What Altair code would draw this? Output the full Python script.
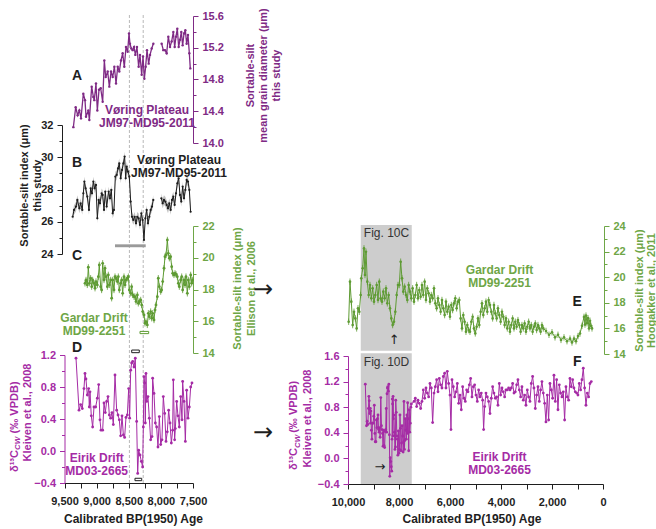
import altair as alt
import pandas as pd

W, H = 656, 529
FONT = "Liberation Sans"
PURPLE = "#7f2a85"
INK = "#1e1e1e"
BAND = "#b4b4b4"
GREEN = "#5e9b33"
GREEN_TXT = "#6ea646"
MAGENTA = "#a52ba5"
SHADE = "#cdcdcd"
DASH = "#b8b8b8"

# ---------------- data ----------------
# A: Vøring Plateau JM97-MD95-2011, mean sortable-silt grain diameter (µm); gap near 8,050 BP
a_age_1 = [9362, 9326, 9295, 9269, 9243, 9207, 9181, 9165, 9129, 9113,
           9077, 9051, 9036, 9010, 8989, 8963, 8937, 8906, 8880, 8859,
           8828, 8802, 8776, 8750, 8724, 8698, 8672, 8647, 8621, 8595,
           8569, 8543, 8517, 8496, 8481, 8460, 8439, 8418, 8397, 8372,
           8346, 8325, 8299, 8278, 8257, 8237, 8216, 8190, 8169, 8143, 8117]
a_val_1 = [14.20, 14.45, 14.35, 14.41, 14.31, 14.62, 14.54, 14.33, 14.41, 14.29,
           14.71, 14.58, 14.54, 14.75, 14.41, 14.67, 14.69, 14.52, 15.04, 14.83,
           14.90, 14.71, 14.90, 14.83, 14.96, 14.75, 14.96, 14.90, 15.04, 15.13,
           14.96, 15.21, 15.15, 15.38, 15.25, 15.19, 15.17, 15.21, 15.11, 15.21,
           14.96, 15.11, 14.86, 15.09, 14.81, 14.96, 15.17, 15.00, 15.11, 15.19, 15.25]
a_age_2 = [7988, 7962, 7936, 7910, 7884, 7858, 7832, 7806, 7785, 7765,
           7744, 7723, 7702, 7682, 7661, 7640, 7619, 7599, 7578, 7557, 7542]
a_val_2 = [15.25, 15.17, 15.17, 15.13, 15.34, 15.21, 15.28, 15.40, 15.21, 15.34,
           15.44, 15.21, 15.30, 15.40, 15.23, 15.38, 15.42, 15.25, 15.36, 15.13, 14.94]

# B: Vøring Plateau JM97-MD95-2011, sortable-silt index (µm)
b_age_1 = [9373, 9352, 9321, 9300, 9269, 9249, 9223, 9207, 9191, 9171,
           9145, 9119, 9093, 9072, 9051, 9031, 9010, 8989, 8968, 8948,
           8922, 8906, 8885, 8865, 8844, 8813, 8792, 8771, 8751, 8730,
           8709, 8688, 8667, 8647, 8626, 8605, 8584, 8564, 8548, 8533,
           8512, 8491, 8470, 8450, 8429, 8408, 8387, 8367, 8346, 8325,
           8304, 8284, 8263, 8242, 8221, 8201, 8180, 8159, 8138, 8118]
b_val_1 = [26.31, 26.73, 26.94, 27.35, 26.83, 27.14, 26.73, 27.76, 28.49, 28.07,
           27.56, 26.73, 28.07, 27.76, 28.49, 28.07, 28.28, 26.21, 27.35, 27.14,
           27.76, 27.66, 26.73, 27.87, 26.94, 27.87, 27.45, 27.97, 26.52, 26.73,
           28.80, 28.90, 29.31, 29.62, 28.69, 29.21, 29.62, 30.04, 28.69, 29.42,
           29.11, 28.80, 27.25, 26.31, 26.11, 26.31, 25.90, 26.31, 26.21, 25.80,
           26.52, 26.11, 24.87, 26.21, 26.73, 25.90, 26.31, 26.73, 26.94, 27.35]
b_age_2 = [7993, 7972, 7952, 7931, 7910, 7889, 7869, 7848, 7827, 7806,
           7786, 7765, 7744, 7723, 7703, 7682, 7661, 7640, 7619, 7599,
           7578, 7557, 7537]
b_val_2 = [27.45, 27.14, 27.35, 27.25, 27.04, 26.83, 27.14, 26.73, 27.35, 27.56,
           27.04, 27.76, 28.38, 28.69, 27.66, 27.25, 28.18, 27.45, 27.97, 28.59,
           28.49, 27.97, 26.62]
B_ERR = 0.3

# C: Gardar Drift MD99-2251, sortable-silt index (µm), Ellison et al., 2006
c_age = [9181, 9165, 9145, 9129, 9113, 9093, 9077, 9062, 9041, 9025,
         9010, 8989, 8973, 8958, 8937, 8922, 8906, 8885, 8870, 8854,
         8833, 8818, 8802, 8781, 8766, 8750, 8730, 8714, 8698, 8678,
         8662, 8647, 8626, 8610, 8595, 8574, 8558, 8543, 8522, 8506,
         8491, 8470, 8455, 8439, 8418, 8403, 8387, 8366, 8351, 8335,
         8314, 8299, 8283, 8263, 8247, 8232, 8211, 8195, 8180, 8159,
         8143, 8128, 8107, 8091, 8076, 8055, 8040, 8024, 8003, 7988,
         7972, 7951, 7936, 7920, 7899, 7884, 7868, 7848, 7832, 7817,
         7796, 7780, 7765, 7744, 7728, 7713, 7692, 7676, 7661, 7640,
         7624, 7609, 7588, 7573, 7557, 7536, 7521, 7505]
c_val = [18.39, 18.60, 18.29, 19.40, 18.39, 18.71, 18.18, 18.60, 18.39, 18.08,
         18.50, 18.29, 18.81, 19.55, 18.18, 17.97, 19.65, 18.60, 19.34, 18.81,
         18.18, 18.92, 18.29, 18.60, 17.45, 18.60, 17.97, 18.81, 18.71, 18.50,
         18.81, 17.97, 18.39, 18.60, 17.76, 18.81, 18.29, 18.60, 18.71, 18.81,
         17.97, 17.76, 18.18, 17.66, 17.55, 17.55, 17.24, 17.66, 17.13, 17.24,
         17.34, 17.03, 16.61, 16.40, 15.87, 15.98, 15.77, 16.50, 16.29, 16.61,
         16.19, 16.50, 16.08, 16.71, 17.03, 17.55, 18.71, 18.18, 17.87, 17.97,
         18.50, 19.34, 20.07, 20.18, 21.12, 20.28, 19.97, 20.07, 19.44, 19.02,
         18.92, 19.02, 18.96, 18.81, 18.39, 18.18, 18.60, 18.81, 17.97, 18.60,
         18.29, 18.81, 17.76, 18.60, 18.18, 18.92, 18.39, 18.60]
C_ERR = 0.2

# D / F: Eirik Drift MD03-2665, benthic d13C (permil VPDB), Kleiven et al., 2008
d_age = [9321, 9274, 9249, 9223, 9197, 9181, 9166, 9145, 9124, 9114,
         9103, 9083, 9062, 9041, 9015, 8989, 8968, 8948, 8932, 8906,
         8885, 8865, 8844, 8823, 8802, 8782, 8761, 8740, 8714, 8688,
         8667, 8647, 8626, 8605, 8584, 8564, 8543, 8522, 8501, 8486,
         8470, 8455, 8439, 8418, 8398, 8377, 8361, 8346, 8325, 8304,
         8284, 8273, 8263, 8252, 8242, 8232, 8221, 8201, 8180, 8159,
         8138, 8128, 8107, 8086, 8066, 8045, 8024, 8003, 7983, 7962,
         7941, 7920, 7900, 7879, 7858, 7837, 7817, 7806, 7786, 7775,
         7754, 7734, 7713, 7692, 7671, 7661, 7640, 7619, 7599, 7578,
         7557, 7536, 7516]
d_val = [1.16, 0.51, 0.58, 0.53, 0.78, 0.97, 0.90, 0.70, 0.78, 0.55,
         0.74, 0.44, 0.30, 0.55, 0.55, 0.66, 0.83, 0.39, 0.26, 0.26,
         0.60, 0.48, 0.62, 0.68, 0.45, 0.41, 0.48, 0.33, 0.95, 0.51,
         0.45, 0.39, 0.19, 0.44, 0.20, 0.17, 0.42, 0.45, 0.78, 0.41,
         1.01, 1.10, 1.12, 1.05, 1.16, 0.37, -0.28, 0.01, -0.05, -0.13,
         -0.20, 0.30, 0.93, 0.85, 0.35, 0.97, 0.62, 0.68, 0.41, 0.14,
         0.18, 0.91, 0.72, 0.35, 0.30, 0.05, 0.43, 0.08, 0.14, 0.68,
         0.47, 0.12, 0.24, 0.51, 0.35, 0.10, 0.26, 0.89, 0.14, 0.28,
         0.62, 0.44, 0.30, 0.68, 0.39, 0.87, 0.62, 0.12, 0.76, 0.41,
         0.55, 0.80, 0.85]
f_age_late = [7412, 7360, 7308, 7256, 7203, 7151, 7099, 7047, 6994, 6942,
              6890, 6837, 6785, 6733, 6681, 6628, 6576, 6524, 6471, 6419,
              6367, 6315, 6262, 6210, 6158, 6106, 6053, 6001, 5962, 5922,
              5870, 5818, 5766, 5713, 5661, 5609, 5557, 5504, 5452, 5400,
              5347, 5295, 5243, 5191, 5138, 5086, 5034, 4981, 4929, 4877,
              4825, 4773, 4720, 4681, 4641, 4589, 4537, 4485, 4432, 4380,
              4328, 4276, 4223, 4171, 4119, 4066, 4014, 3962, 3910, 3857,
              3805, 3753, 3701, 3648, 3596, 3544, 3491, 3439, 3387, 3335,
              3282, 3230, 3178, 3126, 3073, 3021, 2969, 2916, 2864, 2812,
              2760, 2707, 2655, 2603, 2550, 2498, 2446, 2394, 2341, 2289,
              2237, 2184, 2132, 2080, 2028, 1975, 1923, 1871, 1819, 1766,
              1714, 1662, 1609, 1557, 1505, 1453, 1400, 1348, 1296, 1243,
              1191, 1139, 1087, 1034, 982, 930, 878, 825, 773, 721,
              668, 616, 564, 512, 459]
f_val_late = [0.89, 0.94, 0.81, 0.91, 0.86, 0.78, 0.89, 1.07, 0.94, 1.10,
              1.02, 0.96, 1.17, 1.10, 0.56, 1.02, 1.12, 1.23, 1.04, 1.25,
              1.15, 1.10, 1.28, 1.33, 1.10, 1.36, 1.17, 0.99, 0.45, 1.23,
              1.12, 0.96, 1.04, 1.17, 0.86, 0.99, 0.76, 1.12, 0.94, 0.89,
              1.07, 1.04, 1.15, 1.25, 0.96, 1.12, 1.15, 0.99, 0.89, 1.07,
              0.96, 1.02, 0.91, 0.45, 0.81, 1.02, 0.96, 0.89, 0.70, 0.94,
              1.12, 1.02, 0.94, 0.96, 0.83, 1.17, 0.99, 1.10, 1.04, 0.96,
              1.07, 1.07, 1.10, 1.07, 1.10, 1.17, 1.02, 1.04, 1.15, 1.23,
              1.07, 0.96, 1.12, 0.91, 0.99, 0.83, 1.07, 0.96, 0.89, 1.17,
              1.28, 1.10, 0.78, 0.99, 1.12, 0.89, 1.07, 1.20, 1.02, 0.86,
              0.57, 0.99, 0.60, 1.17, 1.07, 0.94, 1.30, 0.89, 1.23, 0.76,
              1.15, 1.02, 0.96, 1.04, 0.60, 1.12, 0.96, 0.91, 1.25, 1.12,
              1.23, 1.10, 1.04, 1.02, 0.99, 1.17, 1.07, 1.23, 1.41, 1.10,
              0.83, 1.02, 0.96, 1.17, 1.20]

# E: Gardar Drift MD99-2251, sortable-silt index (µm), Hoogakker et al., 2011
e_age = [9974, 9922, 9870, 9817, 9765, 9713, 9661, 9608, 9556, 9504,
         9478, 9425, 9373, 9334, 9295, 9242, 9190, 9138, 9085, 9033,
         8981, 8929, 8876, 8824, 8772, 8720, 8667, 8615, 8563, 8510,
         8458, 8406, 8354, 8301, 8249, 8197, 8145, 8092, 8040, 7988,
         7935, 7883, 7831, 7779, 7726, 7674, 7622, 7570, 7517, 7465,
         7412, 7360, 7308, 7256, 7203, 7151, 7099, 7047, 6994, 6942,
         6890, 6837, 6785, 6733, 6681, 6628, 6576, 6524, 6471, 6419,
         6367, 6315, 6262, 6210, 6158, 6106, 6053, 6001, 5949, 5897,
         5844, 5792, 5740, 5687, 5635, 5583, 5530, 5478, 5426, 5374,
         5321, 5269, 5217, 5164, 5112, 5060, 5008, 4955, 4903, 4851,
         4798, 4746, 4694, 4641, 4589, 4537, 4485, 4432, 4380, 4328,
         4276, 4223, 4171, 4119, 4066, 4014, 3962, 3910, 3857, 3805,
         3753, 3701, 3648, 3596, 3544, 3491, 3439, 3387, 3335, 3282,
         3230, 3178, 3126, 3073, 3021, 2969, 2916, 2864, 2812, 2760,
         2707, 2655, 2603, 2550, 2498, 2446, 2394, 2341, 2235, 2118,
         2000, 1882, 1765, 1647, 1529, 1412, 1294, 1216, 1137, 1059,
         980, 902, 824, 745, 706, 667, 627, 588, 549, 510,
         471, 431]
e_val = [16.52, 19.65, 18.09, 16.26, 17.30, 16.78, 16.00, 17.57, 17.30, 18.61,
         19.91, 20.69, 22.25, 20.17, 21.99, 19.65, 18.61, 19.39, 18.35, 19.13,
         18.09, 18.61, 19.39, 18.22, 19.65, 18.35, 18.09, 18.87, 18.35, 19.13,
         17.96, 18.61, 17.57, 16.78, 16.26, 16.52, 17.30, 18.61, 19.39, 19.39,
         21.21, 19.91, 18.87, 19.26, 18.61, 18.22, 19.39, 18.87, 18.35, 19.13,
         18.09, 18.61, 19.39, 18.35, 19.00, 18.48, 19.39, 18.61, 19.65, 18.22,
         19.13, 18.74, 18.09, 18.61, 18.35, 19.13, 17.96, 17.57, 18.35, 17.83,
         17.30, 18.22, 17.57, 17.04, 18.09, 17.30, 17.70, 16.91, 17.83, 17.43,
         17.96, 18.35, 17.57, 18.09, 18.22, 16.78, 16.00, 17.04, 16.52, 15.74,
         16.26, 15.87, 15.74, 16.52, 16.91, 16.00, 15.61, 16.13, 16.78, 16.26,
         17.30, 17.96, 17.04, 17.57, 18.09, 17.30, 18.22, 17.83, 17.30, 16.78,
         17.83, 17.17, 16.78, 17.57, 17.04, 16.52, 17.30, 16.91, 16.26, 16.78,
         16.00, 16.52, 15.74, 16.26, 16.78, 16.00, 16.52, 16.13, 16.65, 16.26,
         15.74, 16.26, 16.00, 16.39, 15.74, 16.13, 16.52, 16.00, 16.26, 15.74,
         16.13, 16.39, 15.87, 16.26, 16.00, 15.74, 16.26, 16.00, 15.8, 15.5,
         15.7, 15.3, 15.5, 15.1, 15.3, 15.0, 15.2, 14.9, 15.2, 15.0,
         15.4, 15.6, 16.2, 16.9, 16.3, 17.0, 16.4, 16.8, 16.0, 16.6,
         16.2, 16.0]
E_ERR = 0.25

# 8.2 ka event guides and the window enlarged on the left
event_ages = [8490, 8275]
window_old, window_young = 9500, 7500

# ---------------- scales ----------------
X_LEFT = alt.Scale(domain=[9500, 7500], range=[64.5, 193], nice=False, zero=False)
X_RIGHT = alt.Scale(domain=[10000, 0], range=[348, 603], nice=False, zero=False)
Y_A = alt.Scale(domain=[14.0, 15.6], range=[143, 16], nice=False, zero=False)
Y_B = alt.Scale(domain=[24, 32], range=[254, 125], nice=False, zero=False)
Y_C = alt.Scale(domain=[14, 22], range=[353, 226], nice=False, zero=False)
Y_D = alt.Scale(domain=[-0.4, 1.2], range=[483, 355], nice=False, zero=False)
Y_E = alt.Scale(domain=[14, 24], range=[354, 226], nice=False, zero=False)
Y_F = alt.Scale(domain=[-0.4, 1.6], range=[484, 356], nice=False, zero=False)


def side_offset(side, at):
    return -at if side == "left" else at - W


def yaxis(side, at, values, fmt, color, title=None, tx=0.0, ty=0.0, lh=13, tcolor=None):
    props = dict(orient=side, offset=side_offset(side, at), values=values,
                 labelExpr=f"format(datum.value, '{fmt}')",
                 grid=False, domainColor=color, tickColor=color, labelColor=color,
                 tickSize=5, labelPadding=4, labelFont=FONT, labelFontSize=11,
                 labelFontWeight="bold", labelOverlap=False)
    if title is None:
        props["title"] = None
    else:
        props.update(title=title, titleX=tx, titleY=ty, titleAngle=270,
                     titleAlign="center", titleBaseline="middle",
                     titleColor=tcolor or color, titleFont=FONT, titleFontSize=11,
                     titleFontWeight="bold", titleLineHeight=lh)
    return alt.Axis(**props)


def minor(side, at, values, color):
    return alt.Axis(orient=side, offset=side_offset(side, at), values=values,
                    labels=False, domain=False, grid=False, tickSize=3,
                    tickColor=color, title=None)


def xaxis(at_y, values, every, tx, ty):
    return alt.Axis(orient="bottom", offset=at_y - H, values=values,
                    labelExpr=f"datum.value % {every} === 0 ? format(datum.value, ',') : ''",
                    grid=False, tickSize=5, labelPadding=7, labelFlush=False,
                    labelOverlap=False, domainColor=INK, tickColor=INK,
                    labelColor=INK, labelFont=FONT, labelFontSize=11,
                    labelFontWeight="bold", title="Calibrated BP(1950) Age",
                    titleX=tx, titleY=ty, titleBaseline="middle", titleAlign="center",
                    titleFont=FONT, titleFontSize=12, titleFontWeight="bold",
                    titleColor=INK)


def series(ages, vals, seg=0):
    return pd.DataFrame({"age": ages, "v": vals, "seg": [seg] * len(ages)})


def xy(xs, ys, xaxis_=None, yaxis_=None):
    return dict(x=alt.X("age:Q", scale=xs, axis=xaxis_),
                y=alt.Y("v:Q", scale=ys, axis=yaxis_))


def note(xs, ys, ages, vals, texts, **mark):
    df = pd.DataFrame({"age": ages, "v": vals, "t": texts})
    return alt.Chart(df).mark_text(**mark).encode(**xy(xs, ys), text="t:N")


def box(xs, ys, a0, a1, v0, v1, **mark):
    df = pd.DataFrame({"a0": [a0], "a1": [a1], "v0": [v0], "v1": [v1]})
    return alt.Chart(df).mark_rect(**mark).encode(
        x=alt.X("a0:Q", scale=xs, axis=None), x2="a1:Q",
        y=alt.Y("v0:Q", scale=ys, axis=None), y2="v1:Q")


a_df = pd.concat([series(a_age_1, a_val_1, 0), series(a_age_2, a_val_2, 1)])
b_df = pd.concat([series(b_age_1, b_val_1, 0), series(b_age_2, b_val_2, 1)])
c_df = series(c_age, c_val)
d_df = series(d_age, d_val)
e_df = series(e_age, e_val)
f_df = series(d_age + f_age_late, d_val + f_val_late)

letter = dict(fontSize=14, fontWeight="bold", color=INK, font=FONT)
site = dict(fontSize=12, fontWeight="bold", font=FONT, lineBreak="\n", lineHeight=13)
figtag = dict(fontSize=12, color="#333333", font=FONT)

layers = []

# shaded window on the right-hand panels
layers.append(box(X_RIGHT, Y_E, window_old, window_young, 14.26, 24.08, color=SHADE))
layers.append(box(X_RIGHT, Y_F, window_old, window_young, -0.4, 1.642, color=SHADE))

# dashed guides bracketing the 8.2 ka event, from the top of panel A to the axis of D
guides = pd.DataFrame({"age": event_ages, "lo": [-0.4, -0.4], "hi": [5.47, 5.47]})
layers.append(alt.Chart(guides).mark_rule(color=DASH, strokeDash=[3, 2], strokeWidth=1).encode(
    x=alt.X("age:Q", scale=X_LEFT, axis=None),
    y=alt.Y("lo:Q", scale=Y_D, axis=None), y2="hi:Q"))

# ---- A
layers.append(alt.Chart(a_df).mark_line(color=PURPLE, strokeWidth=1.3).encode(
    **xy(X_LEFT, Y_A, None, yaxis("right", 193, [14.0, 14.4, 14.8, 15.2, 15.6], ".1f", PURPLE,
                                  ["Sortable-silt", "mean grain diameter (μm)", "this study"], 57, 75)),
    detail="seg:N"))
layers.append(alt.Chart(a_df).mark_point(filled=True, size=6, color=PURPLE, opacity=1).encode(
    **xy(X_LEFT, Y_A, None, minor("right", 193, [14.2, 14.6, 15.0, 15.4], PURPLE))))
layers.append(note(X_LEFT, Y_A, [9305], [14.844], ["A"], **letter))
layers.append(note(X_LEFT, Y_A, [8216], [14.42], ["Vøring Plateau\nJM97-MD95-2011"],
                   color=PURPLE, **site))

# ---- B
layers.append(alt.Chart(b_df).transform_calculate(
    lo=f"datum.v - {B_ERR}", hi=f"datum.v + {B_ERR}").mark_area(color=BAND, opacity=0.8).encode(
    x=alt.X("age:Q", scale=X_LEFT, axis=None),
    y=alt.Y("lo:Q", scale=Y_B, axis=None), y2="hi:Q", detail="seg:N"))
layers.append(alt.Chart(b_df).mark_line(color=INK, strokeWidth=1).encode(
    **xy(X_LEFT, Y_B, None, yaxis("left", 62, [24, 26, 28, 30, 32], "d", INK,
                                  ["Sortable-silt index (μm)", "this study"], -38, 185)),
    detail="seg:N"))
layers.append(alt.Chart(b_df).mark_point(filled=True, size=5, color=INK, opacity=1).encode(
    **xy(X_LEFT, Y_B, None, minor("left", 62, [25, 27, 29, 31], INK))))
layers.append(box(X_LEFT, Y_B, 8714, 8236, 24.42, 24.60, color="#9a9a9a"))
layers.append(note(X_LEFT, Y_B, [9305], [29.64], ["B"], **letter))
layers.append(note(X_LEFT, Y_B, [7718], [29.86], ["Vøring Plateau\nJM97-MD95-2011"],
                   color=INK, **site))

# ---- C
layers.append(alt.Chart(c_df).transform_calculate(
    lo=f"datum.v - {C_ERR}", hi=f"datum.v + {C_ERR}").mark_rule(color=GREEN, strokeWidth=0.8).encode(
    x=alt.X("age:Q", scale=X_LEFT, axis=None),
    y=alt.Y("lo:Q", scale=Y_C, axis=None), y2="hi:Q"))
layers.append(alt.Chart(c_df).mark_line(color=GREEN, strokeWidth=1).encode(
    **xy(X_LEFT, Y_C, None, yaxis("right", 193, [14, 16, 18, 20, 22], "d", GREEN_TXT,
                                  ["Sortable-silt index (μm)", "Ellison et al., 2006"], 44, 288, 14))))
layers.append(alt.Chart(c_df).mark_point(filled=True, size=8, color=GREEN, opacity=1).encode(
    **xy(X_LEFT, Y_C, None, minor("right", 193, [15, 17, 19, 21], GREEN_TXT))))
layers.append(box(X_LEFT, Y_C, 8325, 8190, 15.22, 15.36, color="white", stroke=GREEN, strokeWidth=1))
layers.append(note(X_LEFT, Y_C, [9305], [20.11], ["C"], **letter))
layers.append(note(X_LEFT, Y_C, [9041], [16.19], ["Gardar Drift\nMD99-2251"],
                   color=GREEN_TXT, **site))
layers.append(note(X_LEFT, Y_C, [6411], [17.97], ["→"], fontSize=24, color=INK, font="DejaVu Sans"))

# ---- D
left_ticks = [7500 + 250 * i for i in range(9)]
layers.append(alt.Chart(d_df).mark_line(color=MAGENTA, strokeWidth=1).encode(
    **xy(X_LEFT, Y_D, xaxis(483, left_ticks, 500, 133, 35),
         yaxis("left", 64.5, [-0.4, 0.0, 0.4, 0.8, 1.2], ".1f", MAGENTA,
               "Kleiven et al., 2008", -37.5, 412))))
layers.append(alt.Chart(d_df).mark_point(filled=True, size=8, color=MAGENTA, opacity=1).encode(
    **xy(X_LEFT, Y_D, None, minor("left", 64.5, [-0.2, 0.2, 0.6, 1.0], MAGENTA))))
layers.append(box(X_LEFT, Y_D, 8454, 8336, 1.229, 1.262, color="white", stroke=INK, strokeWidth=1))
layers.append(box(X_LEFT, Y_D, 8403, 8298, -0.371, -0.341, color="white", stroke=INK, strokeWidth=1))
layers.append(note(X_LEFT, Y_D, [9305], [1.284], ["D"], **letter))
layers.append(note(X_LEFT, Y_D, [8999], [-0.085], ["Eirik Drift\nMD03-2665"],
                   color=MAGENTA, **site))
layers.append(note(X_LEFT, Y_D, [6411], [0.225], ["→"], fontSize=24, color=INK, font="DejaVu Sans"))
# rotated d13C_CW title, written piecewise for the super- and subscript
rot = dict(angle=270, align="left", baseline="middle", font=FONT, fontWeight="bold", color=MAGENTA)
layers.append(note(X_LEFT, Y_D, [10270], [-0.2625], ["δ¹³C"], fontSize=11, **rot))
layers.append(note(X_LEFT, Y_D, [10216], [0.0125], ["CW"], fontSize=8, fontStyle="italic", **rot))
layers.append(note(X_LEFT, Y_D, [10270], [0.22], ["(‰ VPDB)"], fontSize=11, **rot))

# ---- E
layers.append(alt.Chart(e_df).transform_calculate(
    lo=f"datum.v - {E_ERR}", hi=f"datum.v + {E_ERR}").mark_rule(color=GREEN, strokeWidth=0.8).encode(
    x=alt.X("age:Q", scale=X_RIGHT, axis=None),
    y=alt.Y("lo:Q", scale=Y_E, axis=None), y2="hi:Q"))
layers.append(alt.Chart(e_df).mark_line(color=GREEN, strokeWidth=1).encode(
    **xy(X_RIGHT, Y_E, None, yaxis("right", 604, [14, 16, 18, 20, 22, 24], "d", GREEN_TXT,
                                   ["Sortable-silt index (μm)", "Hoogakker et al., 2011"], 35, 290, 12))))
layers.append(alt.Chart(e_df).mark_point(filled=True, size=7, color=GREEN, opacity=1).encode(
    **xy(X_RIGHT, Y_E, None, minor("right", 604, [15, 17, 19, 21, 23], GREEN_TXT))))
layers.append(note(X_RIGHT, Y_E, [8490], [23.43], ["Fig. 10C"], **figtag))
layers.append(note(X_RIGHT, Y_E, [4059], [20.60], ["Gardar Drift\nMD99-2251"],
                   color=GREEN_TXT, **site))
layers.append(note(X_RIGHT, Y_E, [1008], [18.04], ["E"], **letter))
layers.append(note(X_RIGHT, Y_E, [8184], [15.09], ["↑"], fontSize=13, color=INK, font="DejaVu Sans"))

# ---- F
right_ticks = [1000 * i for i in range(11)]
layers.append(alt.Chart(f_df).mark_line(color=MAGENTA, strokeWidth=1).encode(
    **xy(X_RIGHT, Y_F, xaxis(484, right_ticks, 2000, 471.5, 34),
         yaxis("left", 348, [-0.4, 0.0, 0.4, 0.8, 1.2, 1.6], ".1f", MAGENTA,
               "Kleiven et al., 2008", -41, 418))))
layers.append(alt.Chart(f_df).mark_point(filled=True, size=8, color=MAGENTA, opacity=1).encode(
    **xy(X_RIGHT, Y_F, None, minor("left", 348, [-0.2, 0.2, 0.6, 1.0, 1.4], MAGENTA))))
layers.append(note(X_RIGHT, Y_F, [8490], [1.502], ["Fig. 10D"], **figtag))
layers.append(note(X_RIGHT, Y_F, [1008], [1.511], ["F"], **letter))
layers.append(note(X_RIGHT, Y_F, [4059], [0.027], ["Eirik Drift\nMD03-2665"],
                   color=MAGENTA, **site))
layers.append(note(X_RIGHT, Y_F, [8745], [-0.139], ["→"], fontSize=13, color=INK, font="DejaVu Sans"))
layers.append(note(X_RIGHT, Y_F, [12118], [-0.181], ["δ¹³C"], fontSize=11, **rot))
layers.append(note(X_RIGHT, Y_F, [11980], [0.1625], ["CW"], fontSize=8, fontStyle="italic", **rot))
layers.append(note(X_RIGHT, Y_F, [12118], [0.40], ["(‰ VPDB)"], fontSize=11, **rot))

chart = (
    alt.layer(*layers)
    .resolve_scale(x="independent", y="independent")
    .properties(width=W, height=H, padding=0, background="white",
                autosize=alt.AutoSizeParams(type="none"))
    .configure(font=FONT)
    .configure_view(strokeOpacity=0)
)

chart.save("out.html", embed_options={"renderer": "svg", "actions": False})
